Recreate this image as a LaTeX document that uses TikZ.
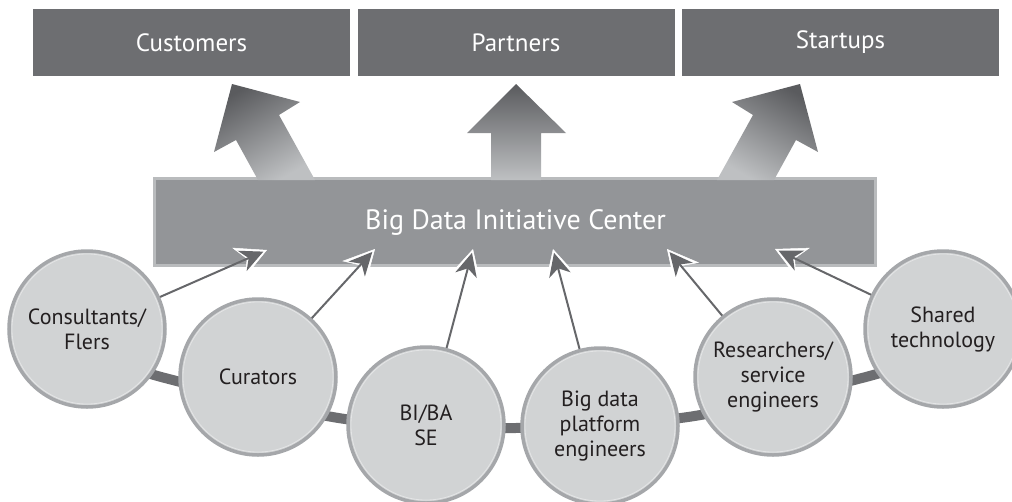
\documentclass[tikz,border=0pt]{standalone}
\usepackage{fontspec}
\setmainfont{PT Sans}
\usetikzlibrary{arrows.meta}
\definecolor{topgray}{HTML}{6D6E71}
\definecolor{bigfill}{HTML}{939598}
\definecolor{bevel}{HTML}{B9BBBD}
\definecolor{circfill}{HTML}{D1D3D4}
\definecolor{circborder}{HTML}{A5A7AA}
\definecolor{circinner}{HTML}{E4E5E6}
\definecolor{circtext}{HTML}{231F20}
\definecolor{arrowgray}{HTML}{66676A}
\definecolor{arrowdark}{HTML}{5A5B5E}
\definecolor{arrowlight}{HTML}{BEC0C2}
\tikzset{
  topbox/.style={fill=topgray, text=white, minimum width=317pt, minimum height=67pt, inner sep=0pt, font=\fontsize{25}{28}\selectfont},
  person/.style={circle, minimum size=156pt, inner sep=0pt, fill=circfill, draw=circborder, line width=3.5pt, align=center, text=circtext, font=\fontsize{22}{25}\selectfont},
  chain/.style={draw=topgray, line width=10pt},
  halo/.style={draw=white, fill=white, line width=0.5pt, -{Stealth[length=31pt,width=32pt,inset=9pt]}},
  conn/.style={draw=arrowgray, fill=arrowgray, line width=2pt, shorten >=4pt, -{Stealth[length=23pt,width=22pt,inset=7pt]}},
  bigarrow/.style={top color=arrowdark, bottom color=arrowlight}
}
\begin{document}
\begin{tikzpicture}[x=1pt,y=-1pt]
\useasboundingbox (0,0) rectangle (1012,501);
% top boxes
\node[topbox] (cust) at (191.5,42.5) {Customers};
\node[topbox] (part) at (516,42.5) {Partners};
\node[topbox] (start) at (840.5,42.5) {Startups};
% big box
\node[fill=bevel, minimum width=724pt, minimum height=90pt, inner sep=0pt] (bdic) at (515,222) {};
\fill[bigfill] (156,180) rectangle (874,264);
\node[text=white, font=\fontsize{28}{32}\selectfont] (bdictext) at (515.5,222) {Big Data Initiative Center};
% big arrows
\shade[bigarrow, shading angle=30] (232,84) -- (300,102) -- (279,115) -- (315,180) -- (258,180) -- (236,140) -- (214,152) -- cycle;
\shade[bigarrow] (516,84) -- (566,133) -- (541,133) -- (541,180) -- (491,180) -- (491,133) -- (467,133) -- cycle;
\shade[bigarrow, shading angle=-30] (800,84) -- (732,102) -- (753,115) -- (717,180) -- (774,180) -- (796,140) -- (818,152) -- cycle;
% chain
\draw[chain] plot[smooth] coordinates {(87,352) (165,378) (345,419) (515,428) (688,417) (862,378) (943,352)};
% circles
\node[person] (cons) at (87,329) {Consultants/\\Flers};
\node[person] (cur) at (258,377) {Curators};
\node[person] (bi) at (426,425) {BI/BA\\SE};
\node[person] (plat) at (600,426) {Big data\\platform\\engineers};
\node[person] (res) at (773,377) {Researchers/\\service\\engineers};
\node[person] (shared) at (943,329) {Shared\\technology};
\foreach \c in {cons,cur,bi,plat,res,shared}
  \draw[circinner, line width=0.8pt] (\c.center) circle (75pt);
% tips
\coordinate (t1) at (267,250);
\coordinate (t2) at (375,249);
\coordinate (t3) at (473,249);
\coordinate (t4) at (553,249);
\coordinate (t5) at (667,249);
\coordinate (t6) at (775,249);
\foreach \s/\t in {cons/t1,cur/t2,bi/t3,plat/t4,res/t5,shared/t6}{
  \path (\s) -- (\t) coordinate[pos=0.7] (h-\t);
  \draw[halo] (h-\t) -- (\t);
  \draw[conn] (\s) -- (\t);
}
\end{tikzpicture}
\end{document}
